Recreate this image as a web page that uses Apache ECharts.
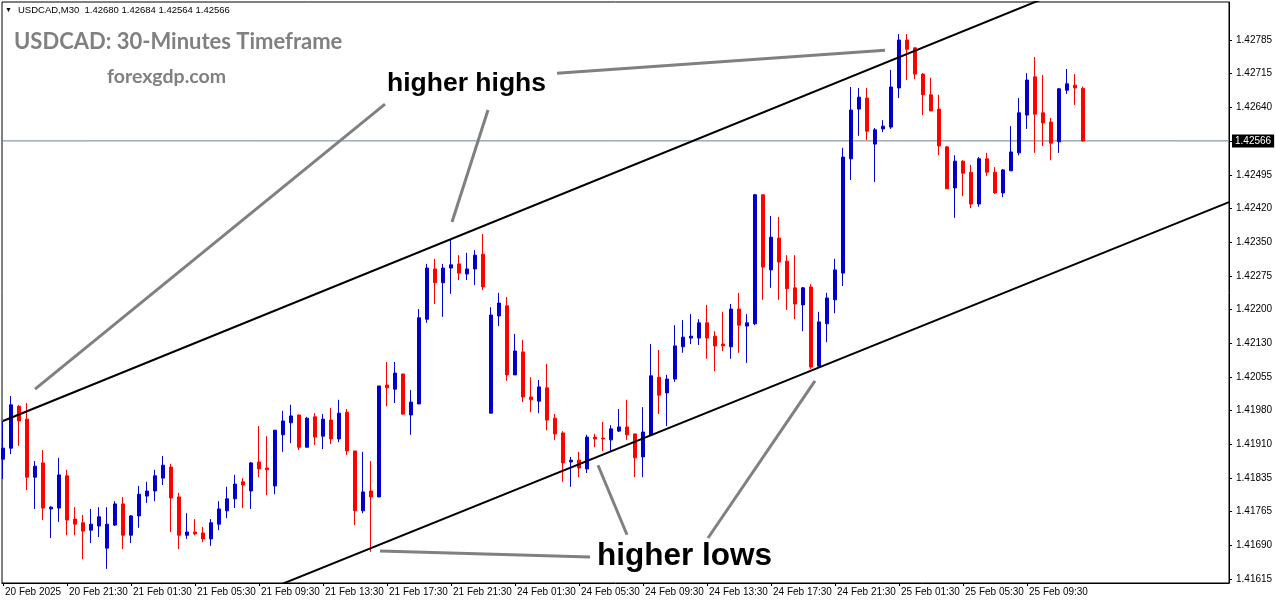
<!DOCTYPE html>
<html><head><meta charset="utf-8">
<script src="https://cdn.jsdelivr.net/npm/echarts@6/dist/echarts.min.js"></script>
<style>html,body{margin:0;padding:0;background:#fff}#c{width:1276px;height:604px}</style>
</head><body><div id="c"></div>
<script>
const categories = [
'20 Feb 17:30','20 Feb 18:00','20 Feb 18:30','20 Feb 19:00','20 Feb 19:30','20 Feb 20:00','20 Feb 20:30','20 Feb 21:00','20 Feb 21:30','20 Feb 22:00','20 Feb 22:30','20 Feb 23:00','20 Feb 23:30',
'21 Feb 00:00','21 Feb 00:30','21 Feb 01:00','21 Feb 01:30','21 Feb 02:00','21 Feb 02:30','21 Feb 03:00','21 Feb 03:30','21 Feb 04:00','21 Feb 04:30','21 Feb 05:00','21 Feb 05:30','21 Feb 06:00','21 Feb 06:30','21 Feb 07:00','21 Feb 07:30','21 Feb 08:00','21 Feb 08:30','21 Feb 09:00','21 Feb 09:30','21 Feb 10:00','21 Feb 10:30','21 Feb 11:00','21 Feb 11:30','21 Feb 12:00','21 Feb 12:30','21 Feb 13:00','21 Feb 13:30','21 Feb 14:00','21 Feb 14:30','21 Feb 15:00','21 Feb 15:30','21 Feb 16:00','21 Feb 16:30','21 Feb 17:00','21 Feb 17:30','21 Feb 18:00','21 Feb 18:30','21 Feb 19:00','21 Feb 19:30','21 Feb 20:00','21 Feb 20:30','21 Feb 21:00','21 Feb 21:30','21 Feb 22:00','21 Feb 22:30','21 Feb 23:00','21 Feb 23:30',
'24 Feb 00:00','24 Feb 00:30','24 Feb 01:00','24 Feb 01:30','24 Feb 02:00','24 Feb 02:30','24 Feb 03:00','24 Feb 03:30','24 Feb 04:00','24 Feb 04:30','24 Feb 05:00','24 Feb 05:30','24 Feb 06:00','24 Feb 06:30','24 Feb 07:00','24 Feb 07:30','24 Feb 08:00','24 Feb 08:30','24 Feb 09:00','24 Feb 09:30','24 Feb 10:00','24 Feb 10:30','24 Feb 11:00','24 Feb 11:30','24 Feb 12:00','24 Feb 12:30','24 Feb 13:00','24 Feb 13:30','24 Feb 14:00','24 Feb 14:30','24 Feb 15:00','24 Feb 15:30','24 Feb 16:00','24 Feb 16:30','24 Feb 17:00','24 Feb 17:30','24 Feb 18:00','24 Feb 18:30','24 Feb 19:00','24 Feb 19:30','24 Feb 20:00','24 Feb 20:30','24 Feb 21:00','24 Feb 21:30','24 Feb 22:00','24 Feb 22:30','24 Feb 23:00','24 Feb 23:30',
'25 Feb 00:00','25 Feb 00:30','25 Feb 01:00','25 Feb 01:30','25 Feb 02:00','25 Feb 02:30','25 Feb 03:00','25 Feb 03:30','25 Feb 04:00','25 Feb 04:30','25 Feb 05:00','25 Feb 05:30','25 Feb 06:00','25 Feb 06:30','25 Feb 07:00','25 Feb 07:30','25 Feb 08:00','25 Feb 08:30','25 Feb 09:00','25 Feb 09:30','25 Feb 10:00','25 Feb 10:30','25 Feb 11:00','25 Feb 11:30','25 Feb 12:00','25 Feb 12:30','25 Feb 13:00'
];
const opens = [
1.41875,1.41899,1.41990,1.41962,1.41836,1.41867,1.41767,1.41769,1.41839,1.41745,
1.41737,1.41721,1.41730,1.41682,1.41732,1.41778,1.41710,1.41752,1.41795,1.41806,
1.41834,1.41858,1.41793,1.41710,1.41717,1.41715,1.41702,1.41734,1.41763,1.41789,
1.41826,1.41806,1.41869,1.41856,1.41817,1.41928,1.41954,1.41971,1.41901,1.41967,
1.41925,1.41960,1.41919,1.41977,1.41893,1.41763,1.41806,1.41793,1.42036,1.42027,
1.42060,1.41971,1.41995,1.42179,1.42288,1.42258,1.42290,1.42299,1.42277,1.42288,
1.42320,1.41975,1.42186,1.42208,1.42058,1.42108,1.42010,1.42001,1.42030,1.41964,
1.41932,1.41869,1.41873,1.41854,1.41923,1.41921,1.41917,1.41936,1.41945,1.41930,
1.41880,1.41928,1.42053,1.42019,1.42049,1.42119,1.42138,1.42138,1.42171,1.42142,
1.42125,1.42119,1.42201,1.42164,1.42169,1.42449,1.42286,1.42355,1.42305,1.42247,
1.42210,1.42249,1.42077,1.42169,1.42221,1.42279,1.42527,1.42635,1.42659,1.42559,
1.42592,1.42596,1.42681,1.42785,1.42768,1.42711,1.42666,1.42635,1.42553,1.42464,
1.42522,1.42498,1.42429,1.42527,1.42498,1.42453,1.42501,1.42540,1.42622,1.42705,
1.42627,1.42607,1.42564,1.42676,1.42687,1.42680
];
const highs = [
1.41958,1.42012,1.41993,1.41997,1.41871,1.41895,1.41773,1.41878,1.41852,1.41771,
1.41754,1.41767,1.41771,1.41771,1.41784,1.41793,1.41754,1.41817,1.41826,1.41852,
1.41882,1.41865,1.41802,1.41758,1.41745,1.41728,1.41745,1.41784,1.41815,1.41841,
1.41834,1.41869,1.41947,1.41925,1.41938,1.41980,1.41993,1.41972,1.41967,1.41975,
1.41973,1.41986,1.42004,1.41984,1.41893,1.41891,1.41871,1.42034,1.42086,1.42086,
1.42060,1.42025,1.42201,1.42299,1.42310,1.42299,1.42353,1.42318,1.42323,1.42329,
1.42364,1.42205,1.42236,1.42227,1.42147,1.42134,1.42053,1.42047,1.42082,1.41973,
1.41936,1.41880,1.41891,1.41928,1.41930,1.41956,1.41949,1.41984,1.42004,1.41930,
1.41988,1.42125,1.42112,1.42058,1.42166,1.42177,1.42190,1.42179,1.42210,1.42153,
1.42195,1.42212,1.42236,1.42190,1.42451,1.42449,1.42403,1.42401,1.42318,1.42318,
1.42249,1.42255,1.42195,1.42236,1.42310,1.42551,1.42683,1.42681,1.42681,1.42594,
1.42611,1.42720,1.42798,1.42798,1.42768,1.42713,1.42703,1.42666,1.42555,1.42535,
1.42524,1.42514,1.42531,1.42540,1.42509,1.42505,1.42598,1.42659,1.42713,1.42748,
1.42709,1.42616,1.42681,1.42722,1.42711,1.42684
];
const lows = [
1.41832,1.41886,1.41904,1.41808,1.41767,1.41743,1.41704,1.41739,1.41710,1.41710,
1.41658,1.41693,1.41706,1.41637,1.41730,1.41680,1.41693,1.41726,1.41780,1.41784,
1.41819,1.41717,1.41680,1.41702,1.41710,1.41695,1.41687,1.41721,1.41747,1.41769,
1.41769,1.41767,1.41836,1.41797,1.41799,1.41891,1.41910,1.41895,1.41901,1.41906,
1.41897,1.41908,1.41912,1.41884,1.41732,1.41758,1.41674,1.41793,1.41990,1.41997,
1.41971,1.41928,1.41995,1.42171,1.42212,1.42184,1.42234,1.42264,1.42264,1.42253,
1.42242,1.41975,1.42164,1.42045,1.42058,1.41999,1.41977,1.41975,1.41938,1.41917,
1.41826,1.41815,1.41836,1.41845,1.41901,1.41893,1.41893,1.41934,1.41917,1.41836,
1.41836,1.41928,1.41973,1.41947,1.42043,1.42106,1.42125,1.42123,1.42093,1.42066,
1.42110,1.42093,1.42106,1.42084,1.42166,1.42221,1.42247,1.42221,1.42199,1.42179,
1.42153,1.42071,1.42077,1.42129,1.42192,1.42251,1.42481,1.42577,1.42568,1.42477,
1.42585,1.42592,1.42659,1.42698,1.42700,1.42622,1.42631,1.42535,1.42462,1.42399,
1.42446,1.42420,1.42423,1.42490,1.42451,1.42444,1.42501,1.42535,1.42592,1.42540,
1.42555,1.42524,1.42540,1.42668,1.42644,1.42564
];
const closes = [
1.41899,1.41993,1.41958,1.41836,1.41860,1.41769,1.41771,1.41841,1.41743,1.41734,
1.41719,1.41734,1.41750,1.41734,1.41778,1.41710,1.41752,1.41799,1.41806,1.41839,
1.41862,1.41791,1.41710,1.41717,1.41713,1.41702,1.41737,1.41767,1.41789,1.41821,
1.41819,1.41867,1.41854,1.41852,1.41938,1.41958,1.41969,1.41901,1.41964,1.41923,
1.41962,1.41919,1.41975,1.41893,1.41763,1.41804,1.41793,1.42034,1.42030,1.42062,
1.41973,1.41999,1.42182,1.42290,1.42258,1.42290,1.42297,1.42279,1.42288,1.42318,
1.42249,1.42188,1.42214,1.42058,1.42110,1.42010,1.42004,1.42032,1.41960,1.41930,
1.41867,1.41873,1.41856,1.41923,1.41919,1.41919,1.41941,1.41945,1.41928,1.41878,
1.41934,1.42056,1.42014,1.42049,1.42121,1.42140,1.42142,1.42171,1.42138,1.42121,
1.42121,1.42201,1.42166,1.42171,1.42449,1.42292,1.42357,1.42303,1.42245,1.42212,
1.42247,1.42075,1.42173,1.42225,1.42286,1.42531,1.42633,1.42661,1.42587,1.42590,
1.42598,1.42683,1.42785,1.42765,1.42711,1.42666,1.42631,1.42555,1.42462,1.42522,
1.42496,1.42429,1.42527,1.42498,1.42453,1.42503,1.42542,1.42627,1.42698,1.42624,
1.42605,1.42561,1.42679,1.42690,1.42681,1.42566
];
const xTickLabels = ['20 Feb 2025','20 Feb 21:30','21 Feb 01:30','21 Feb 05:30','21 Feb 09:30','21 Feb 13:30','21 Feb 17:30','21 Feb 21:30','24 Feb 01:30','24 Feb 05:30','24 Feb 09:30','24 Feb 13:30','24 Feb 17:30','24 Feb 21:30','25 Feb 01:30','25 Feb 05:30','25 Feb 09:30'];
const yTickLabels = ['1.41615','1.41690','1.41765','1.41835','1.41910','1.41980','1.42055','1.42130','1.42200','1.42275','1.42350','1.42420','1.42495','1.42566','1.42640','1.42715','1.42785'];
const lastPrice = 1.42566;
const headerText = 'USDCAD,M30  1.42680 1.42684 1.42564 1.42566';
const upperChannel = [[0, 1.41958], [140, 1.42945]];
const lowerChannel = [[30, 1.41570], [153.25, 1.42433]];
const highPointers = [
  [[4.0, 1.42027], [47.75, 1.42646]],
  [[56.125, 1.42390], [60.625, 1.42633]],
  [[69.25, 1.42713], [110.25, 1.42763]]
];
const lowPointers = [
  [[47.125, 1.41676], [73.375, 1.41663]],
  [[74.375, 1.41862], [78, 1.41711]],
  [[101.5, 1.42045], [88.125, 1.41704]]
];

const X_MIN = -0.125, X_MAX = 153.25;
const Y_BASE = 1.41615, Y_STEP = 0.00073125;
const yTickValues = yTickLabels.map((s, i) => Y_BASE + i * Y_STEP);
const xTickValues = xTickLabels.map((s, i) => i * 8);
const candleData = opens.map((o, i) => [i, o, closes[i], lows[i], highs[i]]);

const chart = echarts.init(document.getElementById('c'), null, {renderer: 'canvas'});
const FONT = '"Liberation Sans", Arial, sans-serif';
chart.setOption({
  animation: false,
  backgroundColor: '#ffffff',
  grid: {left: 2, right: 47, top: 2, bottom: 21, show: true, borderColor: '#000', borderWidth: 1, backgroundColor: '#fff'},
  xAxis: {
    type: 'value', min: X_MIN, max: X_MAX,
    splitLine: {show: false},
    axisLine: {show: true, onZero: false, lineStyle: {color: '#000', width: 1}},
    axisTick: {show: true, customValues: xTickValues, length: 3, lineStyle: {color: '#000'}},
    axisLabel: {customValues: xTickValues, formatter: v => xTickLabels[Math.round(v / 8)], align: 'left', padding: [0, 0, 0, 2], margin: 4, fontSize: 10, color: '#000', fontFamily: FONT}
  },
  yAxis: {
    type: 'value', position: 'right', min: 1.416063, max: 1.428675, scale: true,
    splitLine: {show: false},
    axisLine: {show: true, onZero: false, lineStyle: {color: '#000', width: 1}},
    axisTick: {show: true, inside: false, customValues: yTickValues, length: 3, lineStyle: {color: '#000'}},
    axisLabel: {customValues: yTickValues, formatter: v => { const i = Math.round((v - Y_BASE) / Y_STEP); return i === 13 ? '' : yTickLabels[i]; }, margin: 7, fontSize: 10, color: '#000', fontFamily: FONT}
  },
  series: [
    {
      type: 'line', data: [[X_MIN, lastPrice], [X_MAX, lastPrice]], showSymbol: false, silent: true, z: 1,
      lineStyle: {color: '#6f8090', width: 1},
      endLabel: {show: true, formatter: () => lastPrice.toFixed(5), distance: 3, backgroundColor: '#000', color: '#fff', padding: [2, 3, 1, 3], fontSize: 10, fontFamily: FONT}
    },
    {
      type: 'candlestick', data: candleData, encode: {x: 0, y: [1, 2, 3, 4]},
      barWidth: 4, clip: true, z: 2,
      itemStyle: {color: '#0000CD', color0: '#FF0000', borderColor: '#0000CD', borderColor0: '#FF0000', borderWidth: 1}
    },
    {type: 'line', data: upperChannel, showSymbol: false, clip: true, lineStyle: {color: '#000', width: 2}, z: 5},
    {type: 'line', data: lowerChannel, showSymbol: false, clip: true, lineStyle: {color: '#000', width: 2}, z: 5},
    {type: 'lines', coordinateSystem: 'cartesian2d', data: highPointers.concat(lowPointers).map(c => ({coords: c})), lineStyle: {color: '#808080', width: 3, opacity: 1, curveness: 0}, z: 6}
  ],
  graphic: [
    {type: 'text', left: 5, top: 7, style: {text: '▼', font: '7px ' + FONT, fill: '#000'}},
    {type: 'text', left: 18, top: 5, style: {text: headerText, font: '9.5px ' + FONT, fill: '#000'}},
    {type: 'text', left: 14, top: 31, style: {text: 'USDCAD: 30-Minutes Timeframe', font: 'bold 22px Lato, sans-serif', fill: '#808080'}},
    {type: 'text', left: 107, top: 67, style: {text: 'forexgdp.com', font: 'bold 19.5px Lato, sans-serif', fill: '#808080'}},
    {type: 'text', left: 387, top: 70, style: {text: 'higher highs', font: 'bold 26.5px ' + FONT, fill: '#000'}},
    {type: 'text', left: 597, top: 540, style: {text: 'higher lows', font: 'bold 31.5px ' + FONT, fill: '#000'}}
  ]
});
</script></body></html>
